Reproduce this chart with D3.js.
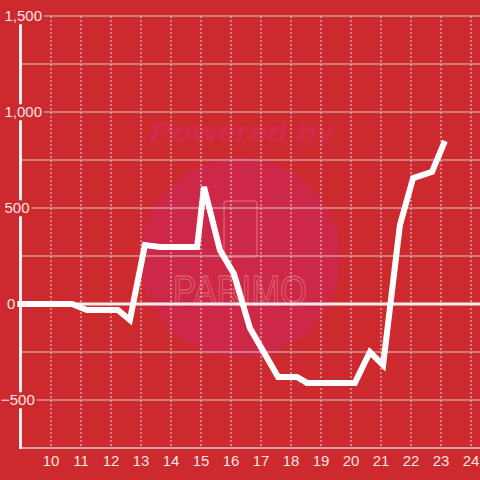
<!DOCTYPE html>
<html>
<head>
<meta charset="utf-8">
<script src="https://cdn.jsdelivr.net/npm/d3@7"></script>
<style>
html,body{margin:0;padding:0;background:#cc2a2f;}
svg{display:block;}
text{font-family:"Liberation Sans",Arial,sans-serif;}
</style>
</head>
<body>
<svg id="c" width="480" height="480"></svg>
<script>
// ---- data ----
const xs = [8.87, 10.7, 11.2, 12.23, 12.63, 13.13, 13.63, 14.87, 15.1, 15.63, 16.1, 16.63, 17.57, 18.2, 18.53, 20.13, 20.63, 21.07, 21.63, 22.07, 22.7, 23.13];
const ys = [0, 0, -31, -31, -83, 307, 297, 297, 610, 281, 156, -125, -380, -380, -411, -411, -250, -318, 411, 656, 688, 849];
const xTicks = [10, 11, 12, 13, 14, 15, 16, 17, 18, 19, 20, 21, 22, 23, 24];
const yLabelTicks = [1500, 1000, 500, 0, -500];
const yGridTicks = [1500, 1250, 1000, 750, 500, 250, -250, -500];

const bg = "#cc2a2f";
const svg = d3.select("#c");
svg.append("rect").attr("width", 480).attr("height", 480).attr("fill", bg);

const x = d3.scaleLinear().domain([9, 24.3]).range([21, 480]);
const y = d3.scaleLinear().domain([-750, 1500]).range([448, 16]);

// watermark
const wm = svg.append("g");
wm.append("circle").attr("cx", 240).attr("cy", 258).attr("r", 100).attr("fill", "#cd2847");
wm.append("text").attr("x", 150).attr("y", 141)
  .attr("font-size", 25).attr("font-weight", "bold").attr("font-style", "italic")
  .attr("textLength", 185).attr("lengthAdjust", "spacingAndGlyphs")
  .attr("fill", "#d22a4c").text("Powered by");
wm.append("rect").attr("x", 224).attr("y", 201).attr("width", 33).attr("height", 56).attr("rx", 3)
  .attr("fill", "none").attr("stroke", "#dc5a6a").attr("stroke-width", 1.5);
wm.append("text").attr("x", 173).attr("y", 305)
  .attr("font-size", 42).attr("font-family", "DejaVu Sans Mono")
  .attr("textLength", 134).attr("lengthAdjust", "spacingAndGlyphs")
  .attr("fill", "none").attr("stroke", "#dc5a6a").attr("stroke-width", 1.3).text("PARIMO");

// vertical dashed gridlines
svg.append("g").selectAll("line").data(xTicks).join("line")
  .attr("x1", d => x(d)).attr("x2", d => x(d)).attr("y1", y(1500)).attr("y2", y(-750))
  .attr("stroke", "#e4d8d8").attr("stroke-width", 1).attr("stroke-dasharray", "2,2");

// horizontal gridlines
svg.append("g").selectAll("line").data(yGridTicks).join("line")
  .attr("x1", x(9)).attr("x2", 480).attr("y1", d => y(d)).attr("y2", d => y(d))
  .attr("stroke", "#d2cccc").attr("stroke-width", 1.2);

// zero line
svg.append("line").attr("x1", x(9)).attr("x2", 480).attr("y1", y(0)).attr("y2", y(0))
  .attr("stroke", "#f6eeee").attr("stroke-width", 3);

// x axis baseline
svg.append("line").attr("x1", x(9)).attr("x2", 480).attr("y1", y(-750)).attr("y2", y(-750))
  .attr("stroke", "#d6cccc").attr("stroke-width", 1.5);

// y axis bar
svg.append("line").attr("x1", x(9) - 0.5).attr("x2", x(9) - 0.5).attr("y1", y(1500)).attr("y2", y(-750) + 1)
  .attr("stroke", "#f4eeee").attr("stroke-width", 3);

// data line
const pts = xs.map((v, i) => [v, ys[i]]);
svg.append("path").datum(pts)
  .attr("d", d3.line().x(d => x(d[0])).y(d => y(d[1])))
  .attr("fill", "none").attr("stroke", "#ffffff").attr("stroke-width", 6)
  .attr("stroke-linejoin", "miter").attr("stroke-miterlimit", 4);

// y labels with background
const fmt = d3.format(",");
const yl = svg.append("g").selectAll("g").data(yLabelTicks).join("g");
yl.each(function(d) {
  const g = d3.select(this);
  const t = g.append("text")
    .attr("x", d < 0 ? 1 : (d === 0 ? 7 : 4.5))
    .attr("y", y(d)).attr("dy", "0.35em")
    .attr("font-size", 15).attr("fill", "#f3e3e3").text(fmt(d));
  const b = t.node().getBBox();
  g.insert("rect", "text").attr("x", b.x - 1).attr("y", b.y + 1)
    .attr("width", b.width + 3).attr("height", b.height - 1).attr("fill", bg);
});

// x labels
svg.append("g").selectAll("text").data(xTicks).join("text")
  .attr("x", d => x(d)).attr("y", 466).attr("text-anchor", "middle")
  .attr("font-size", 15).attr("fill", "#f3e3e3").text(d => d);
</script>
</body>
</html>
